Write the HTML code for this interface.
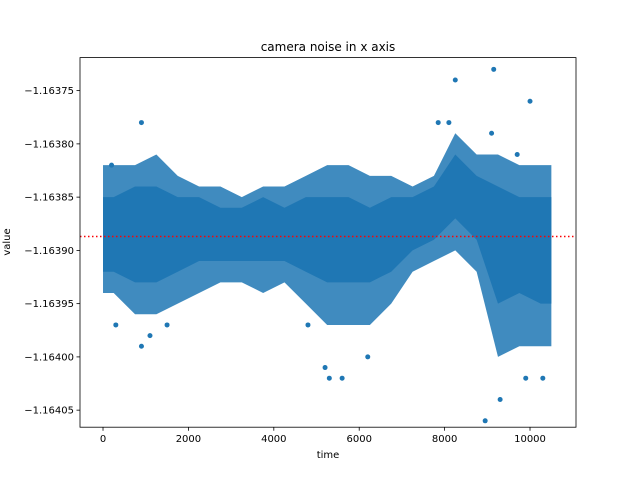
<!DOCTYPE html>
<html><head><meta charset="utf-8"><style>
body{margin:0;background:#fff;}
svg{display:block;font-family:"DejaVu Sans","Liberation Sans",sans-serif;}
</style></head><body>
<svg id="chart" width="640" height="480">
<text x="328" y="51" font-size="12" text-anchor="middle">camera noise in x axis</text>
<text x="328" y="458" font-size="10" text-anchor="middle">time</text>
<text x="10" y="242" font-size="10" text-anchor="middle" transform="rotate(-90 10 242)">value</text>
<g id="marks"></g>
<g id="ref"></g>
<g id="axes"></g>
</svg>
<script>
const binStarts=[0,500,1000,1500,2000,2500,3000,3500,4000,4500,5000,5500,6000,6500,7000,7500,8000,8500,9000,9500,10000];
const binWidth=500;
const coreHi=[-1.16385,-1.16384,-1.16384,-1.16385,-1.16385,-1.16386,-1.16386,-1.16385,-1.16386,-1.16385,-1.16385,-1.16385,-1.16386,-1.16385,-1.16385,-1.16384,-1.16381,-1.16383,-1.16384,-1.16385,-1.16385];
const coreLo=[-1.16392,-1.16393,-1.16393,-1.16392,-1.16391,-1.16391,-1.16391,-1.16391,-1.16391,-1.16392,-1.16393,-1.16393,-1.16393,-1.16392,-1.16390,-1.16389,-1.16387,-1.16389,-1.16395,-1.16394,-1.16395];
const extHi=[-1.16382,-1.16382,-1.16381,-1.16383,-1.16384,-1.16384,-1.16385,-1.16384,-1.16384,-1.16383,-1.16382,-1.16382,-1.16383,-1.16383,-1.16384,-1.16383,-1.16379,-1.16381,-1.16381,-1.16382,-1.16382];
const extLo=[-1.16394,-1.16396,-1.16396,-1.16395,-1.16394,-1.16393,-1.16393,-1.16394,-1.16393,-1.16395,-1.16397,-1.16397,-1.16397,-1.16395,-1.16392,-1.16391,-1.16390,-1.16392,-1.16400,-1.16399,-1.16399];
const outT=[900,900,8250,9150,10000,8950,300,1100,1500,7850,9300,5200,5600,6200,9900,9100,8100,9700,5300,4800,200,10300];
const outV=[-1.16378,-1.16399,-1.16374,-1.16373,-1.16376,-1.16406,-1.16397,-1.16398,-1.16397,-1.16378,-1.16404,-1.16401,-1.16402,-1.16400,-1.16402,-1.16379,-1.16378,-1.16381,-1.16402,-1.16397,-1.16382,-1.16402];
const meanValue=-1.163887;
const xTicks=[0,2000,4000,6000,8000,10000];
const xTickLabels=["0","2000","4000","6000","8000","10000"];
const yTicks=[-1.16375,-1.16380,-1.16385,-1.16390,-1.16395,-1.16400,-1.16405];
const yTickLabels=["\u22121.16375","\u22121.16380","\u22121.16385","\u22121.16390","\u22121.16395","\u22121.16400","\u22121.16405"];

const L=80,R=576,T=57.6,B=427.2;
const xMin=-539,xMax=11077,yMin=-1.164066,yMax=-1.163719;
const X=v=>L+(v-xMin)/(xMax-xMin)*(R-L);
const Y=v=>B-(v-yMin)/(yMax-yMin)*(B-T);
const NS="http://www.w3.org/2000/svg";
function mk(tag,parent,attrs){const e=document.createElementNS(NS,tag);for(const k in attrs)e.setAttribute(k,attrs[k]);parent.appendChild(e);return e;}
const marks=document.getElementById('marks');
function band(hi,lo,op,name){
  const n=binStarts.length;
  let top=[],bot=[];
  const xs=i=>X(binStarts[i]+binWidth/2);
  top.push(X(binStarts[0])+','+Y(hi[0]));
  bot.unshift(X(binStarts[0])+','+Y(lo[0]));
  for(let i=0;i<n;i++){
    top.push(xs(i)+','+Y(hi[i]));
    bot.unshift(xs(i)+','+Y(lo[i]));
  }
  top.push(X(binStarts[n-1]+binWidth)+','+Y(hi[n-1]));
  bot.unshift(X(binStarts[n-1]+binWidth)+','+Y(lo[n-1]));
  const p=mk('polygon',marks,{points:top.concat(bot).join(' '),fill:'#1f77b4','fill-opacity':op});
  
  
}
band(extHi,extLo,0.85,'scatter-sparse-band');
band(coreHi,coreLo,1,'scatter-dense-band');
for(let i=0;i<outT.length;i++){
  const c=mk('circle',marks,{cx:X(outT[i]),cy:Y(outV[i]),r:2.5,fill:'#1f77b4'});
  
  
}
const ref=document.getElementById('ref');
const ml=mk('line',ref,{x1:L,x2:R,y1:Y(meanValue),y2:Y(meanValue),stroke:'red','stroke-width':1.5,'stroke-dasharray':'1.5,2.5'});


const ax=document.getElementById('axes');
const fr=mk('rect',ax,{x:L,y:T,width:R-L,height:B-T,fill:'none',stroke:'#000','stroke-width':0.8});


xTicks.forEach((t,i)=>{
  const x=X(t);
  const tk=mk('line',ax,{x1:x,x2:x,y1:B,y2:B+3.5,stroke:'#000','stroke-width':0.8});
  
  
  const tx=mk('text',ax,{x:x,y:B+15,'font-size':10,'text-anchor':'middle'});
  tx.textContent=xTickLabels[i];
  
  
});
yTicks.forEach((t,i)=>{
  const y=Y(t);
  const tk=mk('line',ax,{x1:L-3.5,x2:L,y1:y,y2:y,stroke:'#000','stroke-width':0.8});
  
  
  const tx=mk('text',ax,{x:L-6,y:y+3.5,'font-size':10,'text-anchor':'end'});
  tx.textContent=yTickLabels[i];
  
  
});
</script>
</body></html>
